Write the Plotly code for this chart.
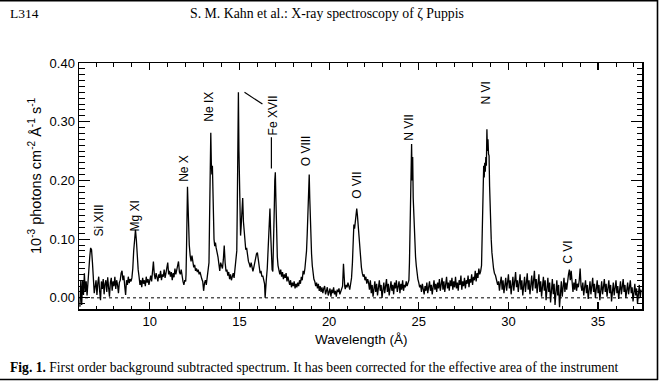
import plotly.graph_objects as go

# ---------------- data ----------------
WAVELENGTH = [
    6.10, 6.15, 6.20, 6.25, 6.30, 6.35, 6.40, 6.45, 6.50, 6.55, 6.60,
    6.65, 6.70, 6.75, 6.80, 6.85, 6.90,
    7.00, 7.05, 7.10, 7.15, 7.20, 7.25, 7.30, 7.35, 7.40, 7.45, 7.50, 7.55, 7.60, 7.65, 7.70, 7.75,
    7.80, 7.85, 7.90, 7.95, 8.00, 8.05, 8.10, 8.15, 8.20, 8.25, 8.30, 8.35, 8.40, 8.45, 8.50, 8.55,
    8.60, 8.65, 8.70, 8.75, 8.80, 8.85, 8.90, 8.95, 9.00,
    9.05, 9.10, 9.15, 9.20, 9.25, 9.30, 9.35, 9.40, 9.45, 9.50, 9.55, 9.60, 9.65, 9.70, 9.75, 9.80,
    9.85, 9.90, 9.95, 10.00, 10.05, 10.10, 10.15, 10.20, 10.25, 10.30, 10.35, 10.40, 10.45, 10.50,
    10.55, 10.60, 10.65, 10.70, 10.75, 10.80, 10.85, 10.90, 10.95, 11.00, 11.05, 11.10, 11.15, 11.20,
    11.25, 11.30, 11.35, 11.40, 11.45, 11.50, 11.55, 11.60, 11.65, 11.70, 11.75, 11.80, 11.85, 11.90,
    11.95, 12.00,
    12.02, 12.05, 12.08, 12.10, 12.13, 12.16, 12.20, 12.25, 12.30, 12.35, 12.40, 12.45, 12.50, 12.55,
    12.60, 12.65, 12.70, 12.75, 12.80, 12.85, 12.90, 12.95, 13.00, 13.05, 13.10, 13.15, 13.20, 13.25,
    13.30, 13.33, 13.36, 13.40, 13.43, 13.46, 13.49, 13.52, 13.55, 13.58, 13.62, 13.66, 13.70, 13.75,
    13.80, 13.85, 13.90, 13.95, 14.00, 14.05, 14.10, 14.15, 14.20, 14.25, 14.30, 14.35, 14.40, 14.45,
    14.50, 14.55, 14.60, 14.65, 14.70, 14.75, 14.80,
    14.85, 14.88, 14.91, 14.94, 14.97, 15.00, 15.03, 15.06, 15.09, 15.12, 15.15, 15.18, 15.22, 15.26,
    15.30, 15.35, 15.40, 15.45, 15.50, 15.55, 15.60, 15.65, 15.70, 15.75, 15.80, 15.85, 15.90, 15.95,
    16.00, 16.05, 16.10, 16.15, 16.20, 16.25, 16.30, 16.35, 16.40, 16.43, 16.46,
    16.50, 16.55, 16.60, 16.65, 16.70, 16.74, 16.78, 16.82, 16.86, 16.90, 16.94, 16.97, 17.00, 17.03,
    17.07, 17.11, 17.15, 17.20,
    17.25, 17.30, 17.35, 17.40, 17.45, 17.50, 17.55, 17.60, 17.65, 17.70, 17.75, 17.80, 17.85, 17.90,
    17.95, 18.00, 18.05, 18.10, 18.15, 18.20, 18.25, 18.30, 18.35, 18.40, 18.45, 18.50, 18.55, 18.60,
    18.65,
    18.70, 18.74, 18.78, 18.82, 18.86, 18.89, 18.92, 18.95, 18.98, 19.02, 19.06, 19.10, 19.15, 19.20,
    19.25, 19.30, 19.35, 19.40, 19.45, 19.50, 19.55, 19.60, 19.65, 19.70, 19.75, 19.80, 19.85, 19.90,
    19.95, 20.00, 20.05, 20.10, 20.15, 20.20, 20.25, 20.30, 20.35, 20.40, 20.45, 20.50, 20.55, 20.60,
    20.65, 20.70, 20.75, 20.80, 20.83, 20.87, 20.90, 20.95, 21.00, 21.05, 21.10, 21.15, 21.20, 21.25,
    21.30, 21.34, 21.38, 21.42, 21.46, 21.50, 21.54, 21.58, 21.62, 21.66, 21.70, 21.75, 21.80, 21.85,
    21.90, 21.95, 22.00, 22.05, 22.10, 22.15, 22.20,
    22.25, 22.30, 22.35, 22.40, 22.45, 22.50, 22.55, 22.60, 22.65, 22.70, 22.75, 22.80, 22.85, 22.90,
    22.95, 23.00, 23.05, 23.10, 23.15, 23.20, 23.25, 23.30, 23.35, 23.40, 23.45, 23.50, 23.55, 23.60,
    23.65, 23.70, 23.75, 23.80, 23.85, 23.90, 23.95, 24.00, 24.05, 24.10, 24.15, 24.20, 24.25, 24.30,
    24.35, 24.40,
    24.45, 24.48, 24.51, 24.54, 24.57, 24.60, 24.63, 24.66, 24.69, 24.72, 24.75, 24.78, 24.82, 24.86,
    24.90, 24.95, 25.00, 25.05, 25.10,
    25.15, 25.20, 25.25, 25.30, 25.35, 25.40, 25.45, 25.50, 25.55, 25.60, 25.65, 25.70, 25.75, 25.80,
    25.85, 25.90, 25.95, 26.00, 26.05, 26.10, 26.15, 26.20, 26.25, 26.30, 26.35, 26.40, 26.45, 26.50,
    26.55, 26.60, 26.65, 26.70, 26.75, 26.80, 26.85, 26.90, 26.95, 27.00, 27.05, 27.10, 27.15, 27.20,
    27.25, 27.30, 27.35, 27.40, 27.45, 27.50, 27.55, 27.60, 27.65, 27.70, 27.75, 27.80, 27.85, 27.90,
    27.95, 28.00, 28.05, 28.10, 28.15, 28.20, 28.25, 28.30, 28.35, 28.40,
    28.45, 28.50, 28.53, 28.56, 28.59, 28.62, 28.65, 28.68, 28.71, 28.74, 28.77, 28.80, 28.83, 28.86,
    28.89, 28.92, 28.95, 28.98, 29.01, 29.04, 29.08, 29.12, 29.17, 29.22, 29.28, 29.34, 29.40,
    29.45, 29.50, 29.55, 29.60, 29.65, 29.70, 29.75, 29.80, 29.85, 29.90, 29.95, 30.00, 30.05, 30.10,
    30.15, 30.20, 30.25, 30.30, 30.35, 30.40, 30.45, 30.50, 30.55, 30.60, 30.65, 30.70, 30.75, 30.80,
    30.85, 30.90, 30.95, 31.00, 31.05, 31.10, 31.15, 31.20, 31.25, 31.30, 31.35, 31.40, 31.45, 31.50,
    31.55, 31.60, 31.65, 31.70, 31.75, 31.80, 31.85, 31.90, 31.95, 32.00, 32.05, 32.10, 32.15, 32.20,
    32.25, 32.30, 32.35, 32.40, 32.45, 32.50, 32.55, 32.60, 32.65, 32.70, 32.75, 32.80, 32.85, 32.90,
    32.95, 33.00, 33.05, 33.10, 33.15, 33.20, 33.25, 33.30,
    33.35, 33.40, 33.45, 33.50, 33.55, 33.60, 33.65, 33.70, 33.75, 33.80, 33.85, 33.90, 33.95, 34.00,
    34.05, 34.10,
    34.15, 34.20, 34.25, 34.30, 34.35, 34.40, 34.45, 34.50, 34.55, 34.60, 34.65, 34.70, 34.75, 34.80,
    34.85, 34.90, 34.95, 35.00, 35.05, 35.10, 35.15, 35.20, 35.25, 35.30, 35.35, 35.40, 35.45, 35.50,
    35.55, 35.60, 35.65, 35.70, 35.75, 35.80, 35.85, 35.90, 35.95, 36.00, 36.05, 36.10, 36.15, 36.20,
    36.25, 36.30, 36.35, 36.40, 36.45, 36.50, 36.55, 36.60, 36.65, 36.70, 36.75, 36.80, 36.85, 36.90,
    36.95, 37.00, 37.05, 37.10, 37.15, 37.20, 37.25, 37.30, 37.35, 37.40,
]

FLUX = [
    -0.015, 0.030, -0.012, 0.030, 0.005, 0.042, 0.010, 0.028, 0.004, 0.030, 0.045,
    0.070, 0.085, 0.082, 0.060, 0.030, 0.008,
    0.030, 0.005, 0.025, 0.036, 0.012, -0.004, 0.028, 0.015, 0.032, 0.006, 0.024, 0.030, 0.010, 0.035, 0.018, 0.002,
    0.026, 0.034, 0.012, 0.028, 0.020, 0.036, 0.015, 0.030, 0.022, 0.008, 0.026, 0.030, 0.042, 0.046, 0.030, 0.038,
    0.020, 0.005, 0.030, 0.022, 0.036, 0.025, 0.032, 0.028, 0.034,
    0.050, 0.080, 0.106, 0.116, 0.098, 0.068, 0.048, 0.036, 0.022, 0.030, 0.018, 0.034, 0.024, 0.030, 0.020, 0.036,
    0.026, 0.032, 0.022, 0.030, 0.038, 0.028, 0.045, 0.062, 0.040, 0.032, 0.042, 0.036, 0.028, 0.040,
    0.034, 0.046, 0.030, 0.040, 0.036, 0.048, 0.034, 0.042, 0.050, 0.060, 0.040, 0.046, 0.036, 0.044,
    0.030, 0.042, 0.035, 0.050, 0.040, 0.046, 0.055, 0.062, 0.044, 0.040, 0.048, 0.035, 0.028, 0.022,
    0.030, 0.028,
    0.040, 0.090, 0.150, 0.189, 0.160, 0.120, 0.090, 0.072, 0.062, 0.072, 0.058, 0.052, 0.056, 0.046,
    0.050, 0.044, 0.048, 0.040, 0.044, 0.036, 0.032, 0.028, 0.012, 0.025, 0.030, 0.022, 0.034, 0.040,
    0.060, 0.130, 0.220, 0.281, 0.230, 0.210, 0.225, 0.180, 0.130, 0.100, 0.088, 0.094, 0.085, 0.078,
    0.070, 0.058, 0.046, 0.060, 0.056, 0.050, 0.065, 0.089, 0.060, 0.045, 0.048, 0.038, 0.044, 0.032,
    0.040, 0.030, 0.036, 0.042, 0.034, 0.048, 0.055,
    0.080, 0.160, 0.260, 0.350, 0.250, 0.170, 0.125, 0.106, 0.120, 0.140, 0.160, 0.170, 0.130, 0.110,
    0.096, 0.082, 0.085, 0.070, 0.062, 0.058, 0.052, 0.060, 0.048, 0.045, 0.052, 0.060, 0.068, 0.075,
    0.077, 0.066, 0.050, 0.042, 0.046, 0.036, 0.038, 0.030, 0.024, 0.000, 0.028,
    0.032, 0.050, 0.095, 0.140, 0.152, 0.110, 0.065, 0.048, 0.045, 0.080, 0.150, 0.200, 0.214, 0.170,
    0.110, 0.070, 0.055, 0.045,
    0.040, 0.048, 0.036, 0.044, 0.032, 0.040, 0.034, 0.042, 0.028, 0.036, 0.030, 0.022, 0.030, 0.018,
    0.026, 0.020, 0.028, 0.016, 0.024, 0.018, 0.026, 0.020, 0.030, 0.024, 0.036, 0.030, 0.046, 0.040,
    0.050,
    0.062, 0.080, 0.110, 0.150, 0.190, 0.210, 0.170, 0.130, 0.100, 0.075, 0.055, 0.040, 0.032, 0.028,
    0.020, 0.026, 0.016, 0.024, 0.012, 0.020, 0.010, 0.018, 0.008, 0.016, 0.020, 0.006, 0.014, 0.018,
    0.004, 0.012, 0.016, 0.002, 0.014, 0.008, 0.018, 0.006, 0.012, 0.002, 0.014, 0.010, 0.016, 0.006,
    0.012, 0.016, 0.020, 0.058, 0.030, 0.020, 0.015, 0.022, 0.018, 0.026, 0.020, 0.014, 0.024, 0.034,
    0.060, 0.100, 0.125, 0.118, 0.135, 0.145, 0.152, 0.140, 0.125, 0.100, 0.080, 0.066, 0.052, 0.042,
    0.036, 0.040, 0.030, 0.036, 0.024, 0.032, 0.026,
    0.014, 0.030, 0.008, 0.022, 0.002, 0.018, 0.028, 0.010, 0.024, 0.004, 0.020, 0.030, 0.012, 0.022,
    0.000, 0.016, 0.026, 0.008, 0.020, 0.032, 0.010, 0.024, 0.004, 0.018, 0.028, 0.012, 0.022, 0.006,
    0.026, 0.016, 0.030, 0.010, 0.020, 0.028, 0.008, 0.024, 0.014, 0.030, 0.012, 0.022, 0.018, 0.028,
    0.020, 0.026,
    0.030, 0.060, 0.120, 0.190, 0.220, 0.262, 0.200, 0.240, 0.170, 0.140, 0.105, 0.085, 0.070, 0.055,
    0.042, 0.032, 0.026, 0.018, 0.022,
    0.010, 0.024, 0.014, 0.006, 0.020, 0.012, 0.026, 0.008, 0.018, 0.028, 0.012, 0.022, 0.006, 0.020,
    0.030, 0.014, 0.024, 0.010, 0.026, 0.016, 0.032, 0.012, 0.022, 0.034, 0.014, 0.028, 0.010, 0.024,
    0.036, 0.016, 0.026, 0.012, 0.030, 0.020, 0.034, 0.014, 0.028, 0.018, 0.036, 0.016, 0.026, 0.012,
    0.030, 0.022, 0.038, 0.014, 0.028, 0.020, 0.034, 0.016, 0.030, 0.024, 0.038, 0.018, 0.032, 0.026,
    0.040, 0.022, 0.036, 0.030, 0.046, 0.028, 0.042, 0.034, 0.050, 0.040,
    0.045, 0.055, 0.100, 0.160, 0.200, 0.225, 0.205, 0.230, 0.215, 0.240, 0.225, 0.287, 0.250, 0.270,
    0.245, 0.242, 0.190, 0.150, 0.128, 0.100, 0.077, 0.062, 0.050, 0.042, 0.038, 0.030, 0.022,
    0.028, 0.012, 0.026, 0.036, 0.014, 0.030, 0.008, 0.024, 0.034, 0.012, 0.028, 0.040, 0.016, 0.030,
    0.006, 0.022, 0.036, 0.012, 0.026, 0.044, 0.018, 0.030, 0.010, 0.024, 0.040, 0.014, 0.030, 0.004,
    0.022, 0.036, 0.010, 0.028, 0.042, 0.014, 0.030, 0.006, 0.024, 0.038, 0.012, 0.026, 0.046, 0.016,
    0.032, 0.008, 0.026, 0.040, 0.010, 0.028, 0.002, 0.022, 0.036, 0.012, 0.030, -0.004, 0.020, 0.034,
    0.010, 0.026, -0.008, 0.018, 0.032, 0.006, 0.024, -0.012, 0.016, 0.030, 0.004, 0.022, -0.016, 0.014,
    0.028, 0.002, 0.020, 0.034, 0.010, 0.026, 0.014, 0.030,
    0.040, 0.048, 0.030, 0.046, 0.020, 0.010, 0.026, 0.014, 0.032, 0.012, 0.024, 0.018, 0.030, 0.050,
    0.020, 0.012,
    0.026, 0.004, 0.018, 0.030, 0.008, 0.022, -0.002, 0.014, 0.028, 0.006, 0.020, 0.034, 0.010, 0.024,
    0.000, 0.016, 0.030, 0.008, 0.022, -0.004, 0.014, 0.028, 0.006, 0.020, 0.032, 0.010, 0.024, 0.002,
    0.018, 0.030, 0.008, 0.022, -0.006, 0.014, 0.026, 0.004, 0.018, 0.030, 0.008, 0.020, -0.002, 0.016,
    0.028, 0.006, 0.018, 0.032, 0.010, 0.022, 0.000, 0.014, 0.026, 0.006, 0.020, 0.030, 0.008, 0.018,
    -0.006, 0.012, 0.024, 0.004, 0.016, -0.010, 0.010, 0.022, 0.000, 0.014,
]

# line identifications: label, wavelength, height of label centre
ION_LABELS = ["Si XIII", "Mg XI", "Ne X", "Ne IX", "Fe XVII", "O VIII", "O VII", "N VII", "N VI", "C VI"]
ION_WAVE = [7.17, 9.17, 11.89, 13.28, 16.88, 18.72, 21.56, 24.44, 28.72, 33.33]
ION_Y = [0.132, 0.140, 0.221, 0.325, 0.311, 0.250, 0.191, 0.291, 0.349, 0.077]

X_RANGE = [6.05, 37.45]
Y_RANGE = [-0.019, 0.40]
Y_TICKS = [0.0, 0.1, 0.2, 0.3, 0.4]

# ---------------- layout geometry (pixels) ----------------
W, H = 659, 381
L, R, T, B = 79, 17, 63, 72
PW, PH = W - L - R, H - T - B


def px(x):
    return (x - L) / PW


def py(y):
    return (H - B - y) / PH


SANS = "Liberation Sans, Arial, sans-serif"
SERIF = "Liberation Serif, Times New Roman, serif"

fig = go.Figure()
fig.add_trace(go.Scatter(
    x=WAVELENGTH, y=FLUX, mode="lines",
    line=dict(color="black", width=1.3),
    hoverinfo="skip", showlegend=False,
))

annotations = []
for lab, wx, wy in zip(ION_LABELS, ION_WAVE, ION_Y):
    annotations.append(dict(
        x=wx, y=wy, xref="x", yref="y", text=lab, showarrow=False,
        textangle=-90, font=dict(family=SANS, size=12, color="black"),
        xanchor="center", yanchor="middle",
    ))

annotations += [
    dict(x=px(8), y=py(14), xref="paper", yref="paper", text="L314", showarrow=False,
         xanchor="left", yanchor="middle", font=dict(family=SERIF, size=13.5, color="black")),
    dict(x=px(327), y=py(14), xref="paper", yref="paper",
         text="S. M. Kahn et al.: X-ray spectroscopy of ζ Puppis", showarrow=False,
         xanchor="center", yanchor="middle", font=dict(family=SERIF, size=13.8, color="black")),
    dict(x=px(8), y=py(367), xref="paper", yref="paper",
         text="<b>Fig. 1.</b> First order background subtracted spectrum. It has been corrected for the effective area of the instrument",
         showarrow=False, xanchor="left", yanchor="middle",
         font=dict(family=SERIF, size=13.6, color="black")),
    # y axis title placed explicitly
    dict(x=px(35), y=py(175), xref="paper", yref="paper",
         text="10<sup>-3</sup> photons cm<sup>-2</sup> Å<sup>-1</sup> s<sup>-1</sup>",
         showarrow=False, textangle=-90, xanchor="center", yanchor="middle",
         font=dict(family=SANS, size=14.5, color="black")),
    # x axis title placed explicitly
    dict(x=px(361), y=py(339), xref="paper", yref="paper", text="Wavelength (Å)",
         showarrow=False, xanchor="center", yanchor="middle",
         font=dict(family=SANS, size=13.5, color="black")),
]

shapes = [
    # dotted zero level
    dict(type="line", xref="paper", yref="y", x0=0, x1=1, y0=0, y1=0,
         line=dict(color="black", width=1, dash="dot")),
    # Fe XVII pointers
    dict(type="line", xref="x", yref="y", x0=15.28, y0=0.350, x1=16.28, y1=0.330,
         line=dict(color="black", width=1.2)),
    dict(type="line", xref="x", yref="y", x0=16.78, y0=0.2205, x1=16.78, y1=0.2735,
         line=dict(color="black", width=1.2)),
    # page frame (top, right, bottom)
    dict(type="line", xref="paper", yref="paper", x0=px(0), x1=px(658), y0=py(0.8), y1=py(0.8),
         line=dict(color="black", width=1.6)),
    dict(type="line", xref="paper", yref="paper", x0=px(657.5), x1=px(657.5), y0=py(0), y1=py(380),
         line=dict(color="black", width=1.6)),
    dict(type="line", xref="paper", yref="paper", x0=px(0), x1=px(658), y0=py(379.5), y1=py(379.5),
         line=dict(color="black", width=1.6)),
]

fig.update_layout(
    width=W, height=H,
    margin=dict(l=L, r=R, t=T, b=B, pad=0, autoexpand=False),
    paper_bgcolor="white", plot_bgcolor="white",
    font=dict(family=SANS, size=12, color="black"),
    annotations=annotations, shapes=shapes,
    showlegend=False,
    hovermode=False,
)

fig.update_xaxes(
    range=X_RANGE, showgrid=False, zeroline=False, automargin=False,
    showline=True, linecolor="black", linewidth=1.5, mirror="ticks",
    ticks="inside", ticklen=7, tickwidth=1.2, tickcolor="black",
    tick0=0, dtick=5,
    minor=dict(dtick=1, ticks="inside", ticklen=3.5, tickwidth=1, tickcolor="black", showgrid=False),
    tickfont=dict(family=SANS, size=13, color="black"),
)
fig.update_yaxes(
    range=Y_RANGE, showgrid=False, zeroline=False, automargin=False,
    showline=True, linecolor="black", linewidth=1.5, mirror="ticks",
    ticks="inside", ticklen=11, tickwidth=1.2, tickcolor="black",
    tickvals=Y_TICKS, tickformat=".2f",
    minor=dict(dtick=0.01, tick0=0, ticks="inside", ticklen=5.5, tickwidth=1, tickcolor="black", showgrid=False),
    tickfont=dict(family=SANS, size=13, color="black"),
)

# remove the browser's default 8px page margin so the figure sits at the window origin
fig.write_html(
    "out.html",
    config={"displayModeBar": False, "staticPlot": True},
    post_script="document.body.style.margin='0px';document.body.style.overflow='hidden';",
)
